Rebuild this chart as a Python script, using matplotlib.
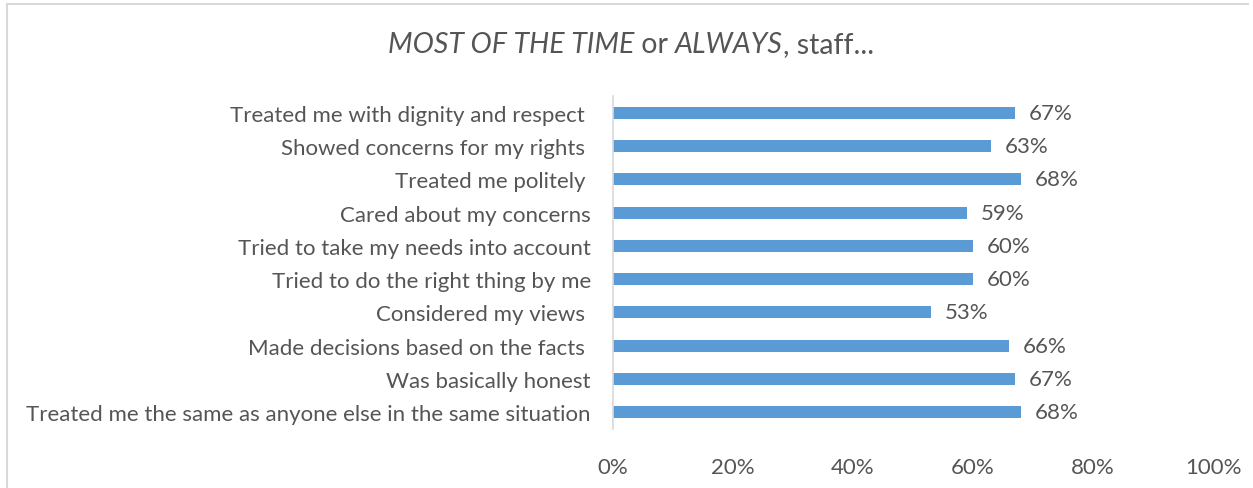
import matplotlib.pyplot as plt
from matplotlib.lines import Line2D

# Survey items, listed top to bottom
labels = [
    'Treated me with dignity and respect ',
    'Showed concerns for my rights ',
    'Treated me politely ',
    'Cared about my concerns',
    'Tried to take my needs into account',
    'Tried to do the right thing by me',
    'Considered my views ',
    'Made decisions based on the facts ',
    'Was basically honest',
    'Treated me the same as anyone else in the same situation',
]
values = [67, 63, 68, 59, 60, 60, 53, 66, 67, 68]
ticks = [0, 20, 40, 60, 80, 100]
tick_labels = ['0%', '20%', '40%', '60%', '80%', '100%']

plt.rcParams['font.family'] = ['Lato', 'DejaVu Sans']
grey = '#555555'
blue = '#5B9BD5'

fig = plt.figure(figsize=(12.53, 4.89), dpi=100)
ax = fig.add_axes([613 / 1253, 1 - 430 / 489, 600 / 1253, 333 / 489])

pos = list(range(len(labels)))
ax.barh(pos, values, height=0.36, color=blue)
for p, v in zip(pos, values):
    ax.text(v + 2.3, p, f'{v}%', va='center', ha='left', fontsize=16, color=grey)

ax.set_xlim(0, 100)
ax.set_ylim(len(labels) - 0.5, -0.5)
ax.set_yticks(pos)
ax.set_yticklabels(labels, fontsize=16, color=grey)
ax.set_xticks(ticks)
ax.set_xticklabels(tick_labels, fontsize=16, color=grey)
ax.tick_params(axis='both', length=0)
ax.tick_params(axis='y', pad=16)
ax.tick_params(axis='x', pad=20)
for s in ['top', 'right', 'bottom']:
    ax.spines[s].set_visible(False)
ax.spines['left'].set_color('#D9D9D9')
ax.spines['left'].set_linewidth(1.2)

# Title built from pieces so some words can be italic
pieces = [('MOST OF THE TIME', 'italic'), (' or ', 'normal'),
          ('ALWAYS', 'italic'), (', staff...', 'normal')]
renderer = fig.canvas.get_renderer()
texts = []
for s, style in pieces:
    t = fig.text(0, 1 - 45 / 489, s, fontsize=20.5, style=style, color=grey,
                 va='center', ha='left')
    texts.append(t)
widths = [t.get_window_extent(renderer).width for t in texts]
x = 631 - sum(widths) / 2
for t, w in zip(texts, widths):
    t.set_x(x / 1253)
    x += w

# Chart frame
fig.add_artist(Line2D([7 / 1253, 7 / 1253], [0, 1 - 5 / 489],
                      transform=fig.transFigure, color='#D9D9D9', lw=1.5))
fig.add_artist(Line2D([7 / 1253, 1248 / 1253], [1 - 5 / 489, 1 - 5 / 489],
                      transform=fig.transFigure, color='#D9D9D9', lw=1.5))

fig.savefig('out.png', dpi=100)
